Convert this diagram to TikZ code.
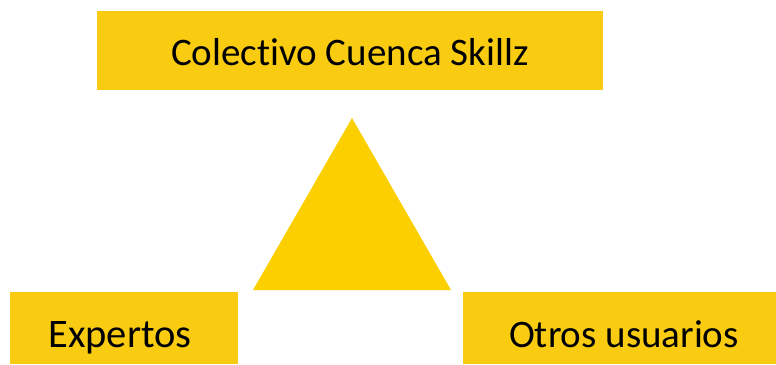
\documentclass[tikz,border=0pt]{standalone}
\usepackage{fontspec}
\setmainfont[Ligatures=NoCommon]{Carlito}
\definecolor{boxgold}{RGB}{249,204,18}
\definecolor{trigold}{RGB}{252,208,0}
\begin{document}
\begin{tikzpicture}[x=1pt,y=-1pt,
  goldbox/.style={fill=boxgold,draw=none},
  lbl/.style={text=black,inner sep=0pt,anchor=base}]
\useasboundingbox (0,0) rectangle (776,364);
\fill[white] (0,0) rectangle (776,364);
\fill[goldbox] (97,11) rectangle (603,90);
\fill[trigold] (352,118) -- (451,290) -- (253,290) -- cycle;
\fill[goldbox] (10,292) rectangle (238,364);
\fill[goldbox] (463,292) rectangle (776,364);
\node[lbl,font=\fontsize{39}{44}\selectfont] (top) at (350,65) {Colectivo Cuenca Skillz};
\node[lbl,font=\fontsize{40.5}{46}\selectfont] (exp) at (120,347) {Expertos};
\node[lbl,font=\fontsize{39}{44}\selectfont] (otr) at (624,347) {Otros usuarios};
\end{tikzpicture}
\end{document}
